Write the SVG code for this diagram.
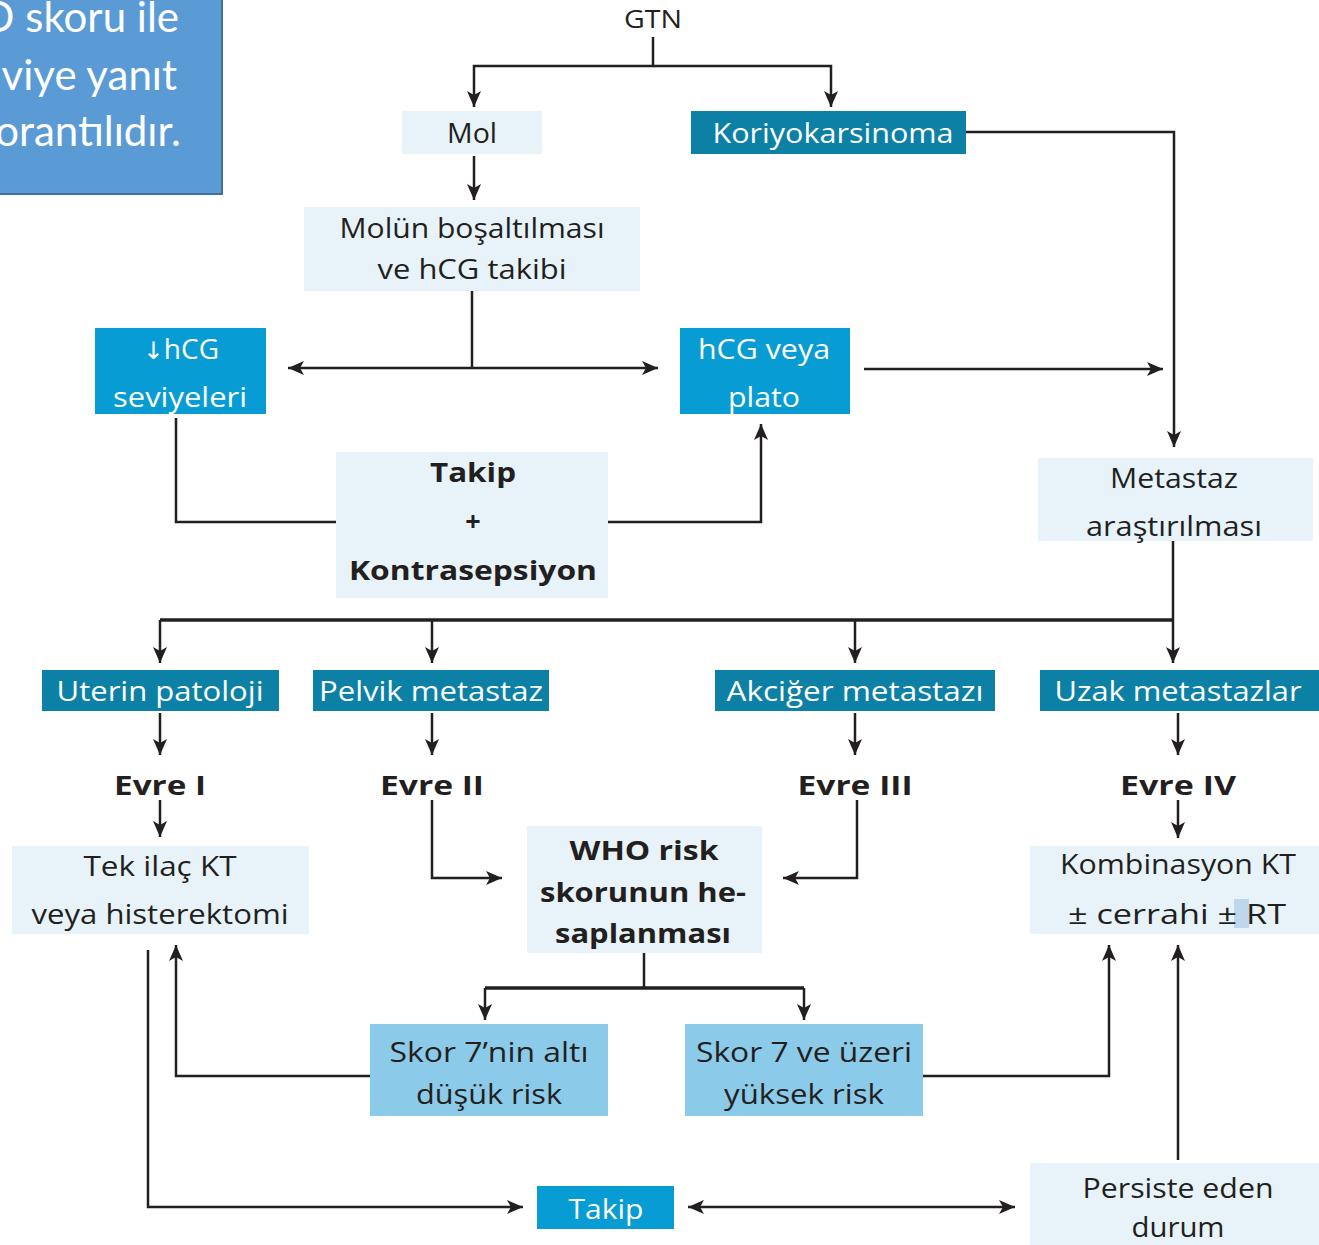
<svg xmlns="http://www.w3.org/2000/svg" width="1319" height="1245" viewBox="0 0 1319 1245">
<defs>
<style>
.lt{fill:#e7f3f8}
.teal{fill:#0d80a5}
.blue{fill:#079cd3}
.sky{fill:#8bcae8}
text{font-family:"Open Sans","Liberation Sans",sans-serif;font-size:27px;fill:#231f20;text-anchor:middle}
text.w{fill:#ffffff}
text.b{font-weight:bold}
.cn path{stroke:#231f20;stroke-width:2.5;fill:none}
.cn path.bus{stroke-width:3.5}
.note text{font-family:Lato,"Open Sans",sans-serif;font-size:42px;fill:#ffffff;text-anchor:end}
</style>
<marker id="ah" markerUnits="userSpaceOnUse" markerWidth="18" markerHeight="16" refX="16" refY="8" orient="auto-start-reverse">
<path d="M0,1 L16,8 L0,15 L4,8 Z" fill="#231f20"/>
</marker>
</defs>
<rect width="1319" height="1245" fill="#ffffff"/>

<g id="note" class="note">
<rect x="-3" y="-3" width="225" height="197" fill="#5b9bd5" stroke="#41719c" stroke-width="2"/>
<text x="179" y="32">O skoru ile</text>
<text x="177" y="90">viye yanıt</text>
<text x="181" y="146">orantılıdır.</text>
</g>

<g class="cn" id="connectors">
<path d="M653,37 V66 H474 V107" marker-end="url(#ah)"/>
<path d="M653,66 H831 V107" marker-end="url(#ah)"/>
<path d="M474,156 V200" marker-end="url(#ah)"/>
<path d="M966,132 H1174 V447" marker-end="url(#ah)"/>
<path d="M472,291 V368"/>
<path d="M288,368 H658" marker-start="url(#ah)" marker-end="url(#ah)"/>
<path d="M864,369 H1163" marker-end="url(#ah)"/>
<path d="M176,418 V522 H336"/>
<path d="M608,522 H761 V424" marker-end="url(#ah)"/>
<path d="M1173,541 V620"/>
<path class="bus" d="M1173,620 H160"/>
<path d="M160,620 V663" marker-end="url(#ah)"/>
<path d="M432,620 V663" marker-end="url(#ah)"/>
<path d="M855,620 V663" marker-end="url(#ah)"/>
<path d="M1173,620 V663" marker-end="url(#ah)"/>
<path d="M160,713 V755" marker-end="url(#ah)"/>
<path d="M432,713 V755" marker-end="url(#ah)"/>
<path d="M855,713 V755" marker-end="url(#ah)"/>
<path d="M1178,713 V755" marker-end="url(#ah)"/>
<path d="M160,800 V837" marker-end="url(#ah)"/>
<path d="M432,800 V878 H502" marker-end="url(#ah)"/>
<path d="M857,800 V878 H783" marker-end="url(#ah)"/>
<path d="M1178,800 V838" marker-end="url(#ah)"/>
<path d="M644,953 V988"/>
<path class="bus" d="M485,988 H804"/>
<path d="M485,988 V1020" marker-end="url(#ah)"/>
<path d="M804,988 V1020" marker-end="url(#ah)"/>
<path d="M370,1076 H176 V945" marker-end="url(#ah)"/>
<path d="M923,1076 H1109 V945" marker-end="url(#ah)"/>
<path d="M1178,1160 V945" marker-end="url(#ah)"/>
<path d="M148,950 V1207 H523" marker-end="url(#ah)"/>
<path d="M688,1207 H1015" marker-start="url(#ah)" marker-end="url(#ah)"/>
</g>

<g id="gtn"><text x="653" y="28" textLength="58" lengthAdjust="spacingAndGlyphs" style="font-size:25px">GTN</text></g>

<g id="mol"><rect class="lt" x="402" y="111" width="140" height="43"/>
<text x="472" y="143" textLength="50" lengthAdjust="spacingAndGlyphs">Mol</text></g>

<g id="koriyokarsinoma"><rect class="teal" x="691" y="111" width="275" height="43"/>
<text class="w" x="833" y="143" textLength="241" lengthAdjust="spacingAndGlyphs">Koriyokarsinoma</text></g>

<g id="molun"><rect class="lt" x="304" y="207" width="336" height="84"/>
<text x="472" y="238" textLength="265" lengthAdjust="spacingAndGlyphs">Molün boşaltılması</text>
<text x="472" y="279" textLength="189" lengthAdjust="spacingAndGlyphs">ve hCG takibi</text></g>

<g id="hcg-down"><rect class="blue" x="95" y="328" width="171" height="86"/>
<text class="w" x="181" y="359" textLength="76" lengthAdjust="spacingAndGlyphs"><tspan style="font-family:'DejaVu Sans',sans-serif;font-size:24px">↓</tspan>hCG</text>
<text class="w" x="180" y="407" textLength="134" lengthAdjust="spacingAndGlyphs">seviyeleri</text></g>

<g id="hcg-plato"><rect class="blue" x="680" y="328" width="170" height="86"/>
<text class="w" x="764" y="359" textLength="132" lengthAdjust="spacingAndGlyphs">hCG veya</text>
<text class="w" x="764" y="407" textLength="72" lengthAdjust="spacingAndGlyphs">plato</text></g>

<g id="takip-kontrasepsiyon"><rect class="lt" x="336" y="452" width="272" height="146"/>
<text class="b" x="473" y="482" textLength="86" lengthAdjust="spacingAndGlyphs">Takip</text>
<text class="b" x="473" y="531">+</text>
<text class="b" x="473" y="580" textLength="248" lengthAdjust="spacingAndGlyphs">Kontrasepsiyon</text></g>

<g id="metastaz"><rect class="lt" x="1038" y="458" width="275" height="83"/>
<text x="1174" y="488" textLength="128" lengthAdjust="spacingAndGlyphs">Metastaz</text>
<text x="1174" y="536" textLength="176" lengthAdjust="spacingAndGlyphs">araştırılması</text></g>

<g id="uterin"><rect class="teal" x="42" y="670" width="237" height="41"/>
<text class="w" x="160" y="701" textLength="207" lengthAdjust="spacingAndGlyphs">Uterin patoloji</text></g>
<g id="pelvik"><rect class="teal" x="313" y="670" width="236" height="41"/>
<text class="w" x="431" y="701" textLength="224" lengthAdjust="spacingAndGlyphs">Pelvik metastaz</text></g>
<g id="akciger"><rect class="teal" x="715" y="670" width="280" height="41"/>
<text class="w" x="855" y="701" textLength="257" lengthAdjust="spacingAndGlyphs">Akciğer metastazı</text></g>
<g id="uzak"><rect class="teal" x="1040" y="670" width="279" height="41"/>
<text class="w" x="1178" y="701" textLength="247" lengthAdjust="spacingAndGlyphs">Uzak metastazlar</text></g>

<g id="evre1"><text class="b" x="160" y="795" textLength="92" lengthAdjust="spacingAndGlyphs">Evre I</text></g>
<g id="evre2"><text class="b" x="432" y="795" textLength="104" lengthAdjust="spacingAndGlyphs">Evre II</text></g>
<g id="evre3"><text class="b" x="855" y="795" textLength="115" lengthAdjust="spacingAndGlyphs">Evre III</text></g>
<g id="evre4"><text class="b" x="1178" y="795" textLength="116" lengthAdjust="spacingAndGlyphs">Evre IV</text></g>

<g id="tek-ilac"><rect class="lt" x="12" y="846" width="297" height="88"/>
<text x="160" y="876" textLength="153" lengthAdjust="spacingAndGlyphs">Tek ilaç KT</text>
<text x="160" y="924" textLength="257" lengthAdjust="spacingAndGlyphs">veya histerektomi</text></g>

<g id="who"><rect class="lt" x="527" y="826" width="235" height="127"/>
<text class="b" x="644" y="860" textLength="149" lengthAdjust="spacingAndGlyphs">WHO risk</text>
<text class="b" x="643" y="902" textLength="206" lengthAdjust="spacingAndGlyphs">skorunun he-</text>
<text class="b" x="643" y="943" textLength="176" lengthAdjust="spacingAndGlyphs">saplanması</text></g>

<g id="kombinasyon"><rect class="lt" x="1030" y="846" width="289" height="88"/>
<rect x="1234" y="899" width="15" height="29" fill="#bdd7ee"/>
<text x="1178" y="874" textLength="236" lengthAdjust="spacingAndGlyphs">Kombinasyon KT</text>
<text x="1177" y="924" textLength="218" lengthAdjust="spacingAndGlyphs">± cerrahi ±  RT</text></g>

<g id="skor-alti"><rect class="sky" x="370" y="1024" width="238" height="92"/>
<text x="489" y="1062" textLength="199" lengthAdjust="spacingAndGlyphs">Skor 7’nin altı</text>
<text x="489" y="1104" textLength="146" lengthAdjust="spacingAndGlyphs">düşük risk</text></g>

<g id="skor-uzeri"><rect class="sky" x="685" y="1024" width="238" height="92"/>
<text x="804" y="1062" textLength="216" lengthAdjust="spacingAndGlyphs">Skor 7 ve üzeri</text>
<text x="804" y="1104" textLength="160" lengthAdjust="spacingAndGlyphs">yüksek risk</text></g>

<g id="takip"><rect class="blue" x="537" y="1186" width="137" height="43"/>
<text class="w" x="606" y="1219" textLength="75" lengthAdjust="spacingAndGlyphs">Takip</text></g>

<g id="persiste"><rect class="lt" x="1030" y="1163" width="289" height="82"/>
<text x="1178" y="1198" textLength="191" lengthAdjust="spacingAndGlyphs">Persiste eden</text>
<text x="1178" y="1237" textLength="93" lengthAdjust="spacingAndGlyphs">durum</text></g>
</svg>
